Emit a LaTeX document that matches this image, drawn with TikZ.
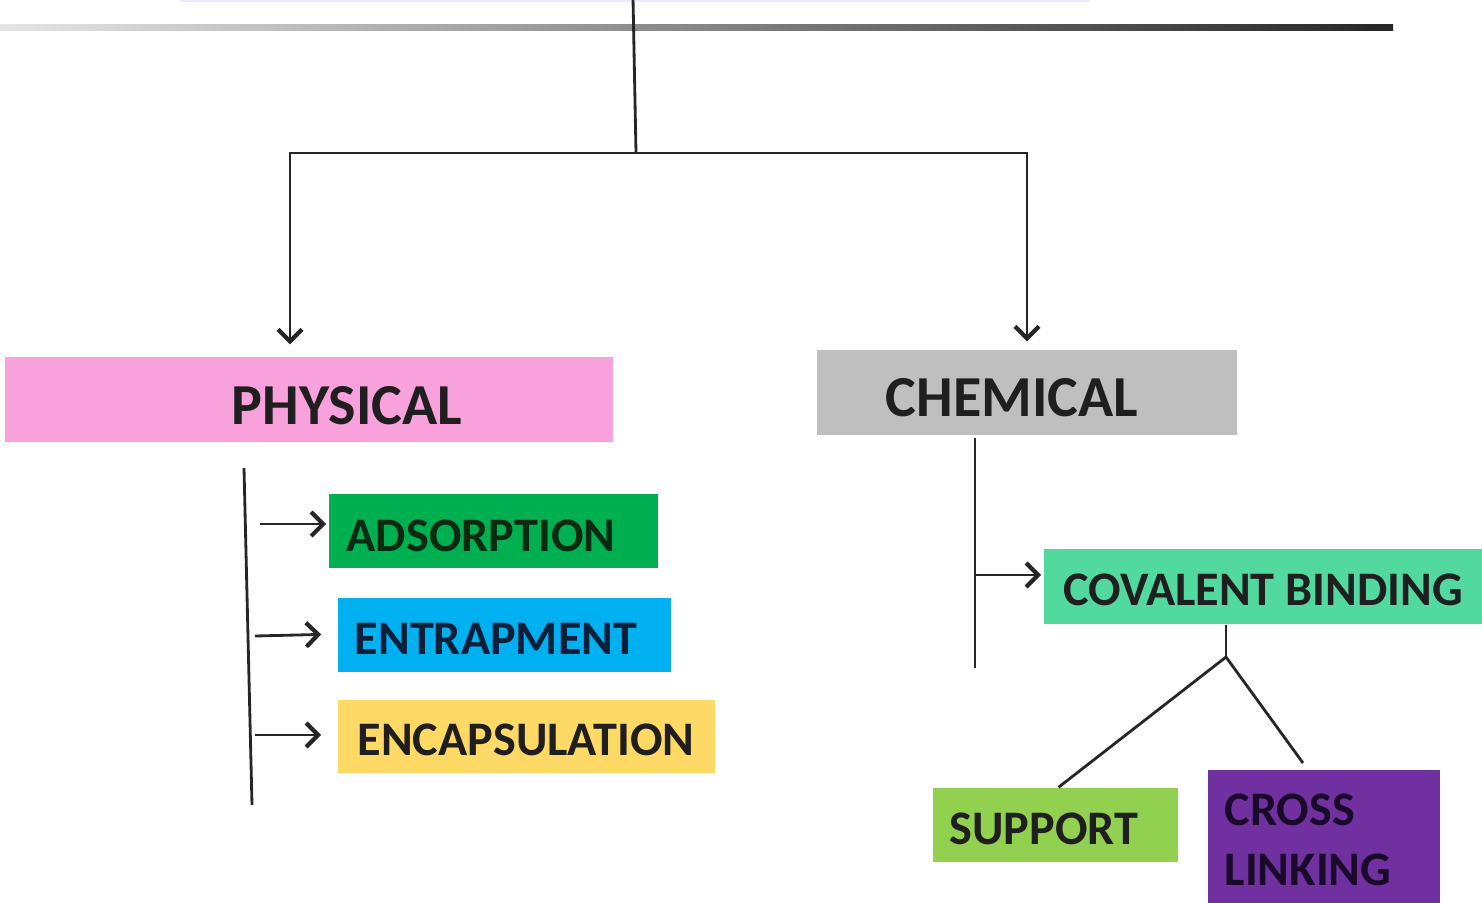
\documentclass[tikz,border=0pt]{standalone}
\usepackage{fontspec}
\setmainfont{Carlito}
\usetikzlibrary{arrows.meta,calc}
\definecolor{cpink}{HTML}{F9A1DC}
\definecolor{cgray}{HTML}{BFBFBF}
\definecolor{cgreen}{HTML}{00B050}
\definecolor{cblue}{HTML}{00B0F0}
\definecolor{cyellow}{HTML}{FFD966}
\definecolor{caqua}{HTML}{52D9A0}
\definecolor{clime}{HTML}{92D050}
\definecolor{cpurple}{HTML}{7030A0}
\definecolor{clav}{HTML}{EBEBFF}
\definecolor{tgreen}{HTML}{0B2A12}
\definecolor{tblue}{HTML}{0A1F3A}
\definecolor{tpurple}{HTML}{1A0A2A}
\tikzset{
  box/.style={rectangle, draw=none, inner sep=0pt},
  big/.style={font=\bfseries\fontsize{16.5}{19}\selectfont, text=black!88, inner sep=0pt},
  lbl/.style={font=\bfseries\fontsize{13.7}{17}\selectfont, text=black!88, inner sep=0pt, align=left},
  ln/.style={line width=0.8pt, black!85},
  arr/.style={ln, -{Straight Barb[length=1.2mm,width=2.4mm,line width=1.2pt]}},
}
\begin{document}
\begin{tikzpicture}[x=0.01cm,y=-0.01cm]
\useasboundingbox (0,0) rectangle (1482,902);
% top fragments
\fill[clav] (180,-5) rectangle (1090,2);
\shade[left color=black!10, right color=black!85] (0,24) rectangle (1393,30);

% boxes
\node[box, fill=cpink, minimum width=60.8mm, minimum height=8.5mm] (phys) at (309,399.5) {};
\node[big] (physT) at (347,406) {PHYSICAL};
\node[box, fill=cgray, minimum width=42mm, minimum height=8.5mm] (chem) at (1027,392.5) {};
\node[big] (chemT) at (1012,398) {CHEMICAL};

\node[box, fill=cgreen, minimum width=32.9mm, minimum height=7.4mm] (ads) at (493.5,531) {};
\node[lbl, text=tgreen] (adsT) at (481,536) {ADSORPTION};
\node[box, fill=cblue, minimum width=33.3mm, minimum height=7.4mm] (ent) at (504.5,635) {};
\node[lbl, text=tblue] (entT) at (496,639) {ENTRAPMENT};
\node[box, fill=cyellow, minimum width=37.7mm, minimum height=7.3mm] (enc) at (526.5,736.5) {};
\node[lbl] (encT) at (526,740) {ENCAPSULATION};

\node[box, fill=caqua, minimum width=43.8mm, minimum height=7.5mm] (cov) at (1263,586.5) {};
\node[lbl] (covT) at (1263,590) {COVALENT BINDING};
\node[box, fill=clime, minimum width=24.5mm, minimum height=7.4mm] (sup) at (1055.5,825) {};
\node[lbl] (supT) at (1044,829) {SUPPORT};
\node[box, fill=cpurple, minimum width=23.2mm, minimum height=13.5mm] (cross) at (1324,837.5) {};
\node[lbl, text=tpurple] (crossT) at (1308,840) {CROSS\\LINKING};

% top connectors
\coordinate (top) at (633,-2);
\coordinate (j) at (636,153);
\draw[ln] (top) -- (j);
\draw[arr, shorten >=1.2mm] (j) -| ($(phys.north)+(-19,0)$);
\draw[arr, shorten >=0.8mm] (j) -| (chem.north);

% physical branch
\coordinate (pa) at (244,468);
\coordinate (pb) at (252,805);
\draw[ln] (pa) -- (pb);
\coordinate (pa1) at (260,524);
\coordinate (pa2) at (255,636);
\coordinate (pa3) at (255,735);
\draw[arr, shorten >=0.2mm] (pa1) -- (ads.west |- pa1);
\draw[arr, shorten >=1.6mm] (pa2) -- ($(ent.west)+(0,-1)$);
\draw[arr, shorten >=1.6mm] (pa3) -- (enc.west |- pa3);

% chemical branch
\coordinate (ca) at (975,438);
\coordinate (cb) at (975,668);
\draw[ln] (ca) -- (cb);
\coordinate (ca1) at (975,575);
\draw[arr, shorten >=0.2mm] (ca1) -- (cov.west |- ca1);

% covalent split
\coordinate (cj) at (1226,657);
\draw[ln] ($(cov.south)+(-37,0)$) -- (cj);
\draw[ln] (cj) -- ($(sup.north)+(3,0)$);
\coordinate (cx) at (1303,763);
\draw[ln] (cj) -- (cx);
\end{tikzpicture}
\end{document}
